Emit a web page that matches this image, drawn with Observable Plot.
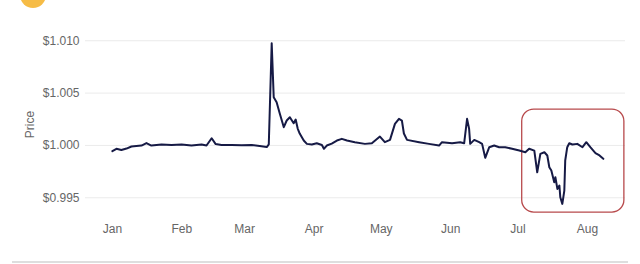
<!DOCTYPE html>
<html><head><meta charset="utf-8">
<script src="https://cdn.jsdelivr.net/npm/d3@7"></script>
<script src="https://cdn.jsdelivr.net/npm/@observablehq/plot@0.6"></script>
<style>
html,body{margin:0;padding:0;background:#fff;}
#wrap{position:relative;width:640px;height:264px;overflow:hidden;font-family:"Liberation Sans",Arial,sans-serif;}
#icon{position:absolute;left:20px;top:-18px;width:26px;height:26px;border-radius:50%;background:#f5b026;opacity:0.85;}
#rule{position:absolute;left:12px;top:261px;width:616px;height:2px;background:#dedede;}
#chart{position:absolute;left:0;top:0;}
</style></head>
<body><div id="wrap"><div id="icon"></div><div id="chart"></div><div id="rule"></div></div>
<script>
// days since 2023-01-01
const days = [0,1.8,4.0,6.3,8.5,10.7,13.0,15.2,17.4,19.7,21.9,26.4,30.9,35.3,39.8,42.0,44.3,46.1,48.7,53.2,57.7,62.2,65.7,68.9,69.8,71.1,72.0,73.3,74.7,76.5,77.8,79.2,80.9,81.8,82.7,83.6,85.4,86.8,89.0,91.2,93.5,94.4,95.7,97.9,100.2,102.4,104.7,108.2,112.7,115.8,119.4,121.6,123.9,126.1,127.9,129.2,130.1,131.5,136.9,141.3,145.8,147.1,151.6,155.2,157.0,158.3,159.2,159.7,161.5,163.7,165.0,166.4,168.2,170.4,172.6,175.3,178.4,181.6,184.3,186.0,188.3,189.6,191.0,192.8,194.1,195.0,195.9,197.2,197.7,198.6,199.5,199.9,200.8,201.7,202.1,203.0,203.9,205.3,207.5,209.8,211.5,213.3,215.6,217.4,219.1];
const prices = [0.99945,0.99968,0.99956,0.99970,0.99990,0.99994,0.99999,1.00023,0.99999,1.00004,1.00009,1.00004,1.00009,0.99999,1.00009,0.99999,1.00069,1.00013,1.00004,1.00004,1.00001,1.00004,0.99994,0.99985,1.00009,1.00976,1.00460,1.00413,1.00305,1.00174,1.00238,1.00269,1.00212,1.00247,1.00161,1.00114,1.00047,1.00015,1.00009,1.00021,1.00004,0.99968,0.99999,1.00018,1.00047,1.00063,1.00047,1.00031,1.00015,1.00021,1.00085,1.00031,1.00053,1.00206,1.00254,1.00238,1.00114,1.00053,1.00031,1.00015,0.99999,1.00031,1.00021,1.00031,1.00021,1.00254,1.00159,1.00015,1.00053,1.00031,1.00015,0.99882,0.99983,0.99999,0.99983,0.99983,0.99968,0.99951,0.99935,0.99968,0.99951,0.99744,0.99920,0.99935,0.99904,0.99792,0.99760,0.99649,0.99696,0.99585,0.99617,0.99505,0.99442,0.99569,0.99856,0.99983,1.00021,1.00009,1.00015,0.99983,1.00031,0.99983,0.99926,0.99904,0.99872];
const yTicks = [0.995, 1.000, 1.005, 1.010];
const monthTicks = ["2023-01-01","2023-02-01","2023-03-01","2023-04-01","2023-05-01","2023-06-01","2023-07-01","2023-08-01"];
const highlight = {d1: 182.9, d2: 228.5, p1: 0.99359, p2: 1.00343};

const base = new Date(2023, 0, 1);
const toDate = d => new Date(base.getTime() + d * 864e5);
const series = days.map((d, i) => ({date: toDate(d), price: prices[i]}));
const box = [{x1: toDate(highlight.d1), x2: toDate(highlight.d2), y1: highlight.p1, y2: highlight.p2}];

const chart = Plot.plot({
  width: 640, height: 264,
  marginTop: 35, marginBottom: 51, marginLeft: 85, marginRight: 15,
  style: {fontFamily: '"Liberation Sans", Arial, sans-serif', fontSize: "12px", color: "#666", background: "transparent"},
  x: {type: "time", domain: [new Date(2022, 11, 20), new Date(2023, 7, 18)]},
  y: {domain: [0.9935, 1.0105]},
  marks: [
    Plot.gridY(yTicks, {stroke: "#ebebeb", strokeOpacity: 1, strokeWidth: 1}),
    Plot.axisY(yTicks, {tickSize: 0, tickPadding: 6, tickFormat: d3.format("$.3f"), label: "Price", labelAnchor: "center", labelOffset: 60, labelArrow: "none", fill: "#666"}),
    Plot.axisX(monthTicks.map(s => new Date(s + "T00:00")), {tickSize: 0, tickPadding: 11, tickFormat: d3.timeFormat("%b"), label: null, fill: "#666"}),
    Plot.rect(box, {x1: "x1", x2: "x2", y1: "y1", y2: "y2", fill: "none", stroke: "#b84a4c", strokeWidth: 1.3, rx: 12}),
    Plot.line(series, {x: "date", y: "price", stroke: "#161a45", strokeWidth: 2, strokeLinejoin: "round"})
  ]
});
document.getElementById("chart").appendChild(chart);
</script></body></html>
